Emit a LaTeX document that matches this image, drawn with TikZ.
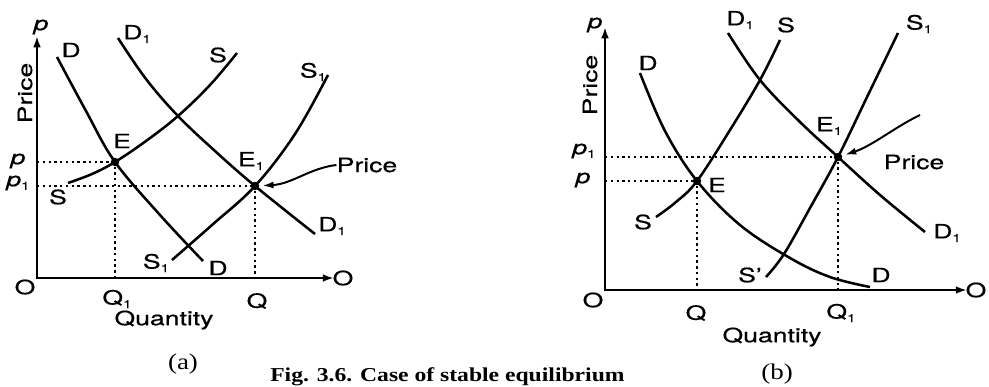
\documentclass[tikz,border=0pt]{standalone}
\usepackage{fontspec}
\setmainfont{TeX Gyre Heros}[FakeStretch=1.35, FakeBold=0.5]
\newfontfamily\capfont{Liberation Serif}[FakeStretch=1.2]
\usepackage{tikz}
\usetikzlibrary{arrows.meta}
\newcommand{\pl}{\textit{p}}
\newcommand{\one}{\raisebox{-0.35ex}{\fontsize{8}{8}\selectfont 1}}

\tikzset{
  curve/.style={line width=1.8pt},
  guide/.style={line width=1.4pt, dash pattern=on 1.7pt off 2.4pt},
  axes/.style={line width=1.7pt, {Latex[length=8pt,width=5.5pt]}-{Latex[length=8pt,width=5.5pt]}},
  pointer/.style={line width=1.4pt, -{Latex[length=8pt,width=5pt]}, shorten >=2pt},
  lbl/.style={font=\fontsize{14}{16}\selectfont, inner sep=0pt},
  eqpt/.style={circle, fill, inner sep=0pt, minimum size=6pt},
  panel/.style={font=\capfont\fontsize{16}{18}\selectfont, inner sep=0pt},
}

\begin{document}
\begin{tikzpicture}[x=0.25mm, y=-0.25mm]
  \useasboundingbox (0,0) rectangle (989,386);
  % ================================================================
  % (a) supply shifts right
  % ================================================================
  \begin{scope}
    \coordinate (aytop) at (37,36);
    \coordinate (aorig) at (37,278);
    \coordinate (axend) at (334,278);
    \draw[axes] (aytop) |- (axend);
    % curves ---------------------------------------------------------
    \draw[curve] plot[smooth, tension=0.6] coordinates {(57,57) (86,111) (115,162) (160,215) (203,261)};
    \draw[curve] plot[smooth, tension=0.6] coordinates {(118,38) (146,79) (178,116) (215,151) (255,186) (315,234)};
    \draw[curve] plot[smooth, tension=0.6] coordinates {(68,183) (92,174) (115,162) (146,141) (178,116) (210,85) (237,53)};
    \draw[curve] plot[smooth, tension=0.6] coordinates {(172,260) (212,225) (255,186) (295,134) (328,75)};
    % equilibria -----------------------------------------------------
    \node[eqpt] (aE) at (115,162) {};
    \node[eqpt] (aEone) at (255,186) {};
    \draw[guide] (aE -| aorig) -- (aE);
    \draw[guide] (aE) -- (aE |- aorig);
    \draw[guide] (aEone -| aorig) -- (aEone);
    \draw[guide] (aEone) -- (aEone |- aorig);
    % labels ---------------------------------------------------------
    \node[lbl] (aptop) at (41,27) {\pl};
    \node[lbl, rotate=90] (aprice) at (25,93) {Price};
    \node[lbl] (ap) at (18,161) {\pl};
    \node[lbl] (apone) at (18,183) {\pl\one};
    \node[lbl] (aDtop) at (71,50) {D};
    \node[lbl] (aDonetop) at (137,34) {D\one};
    \node[lbl] (aStop) at (218,55) {S};
    \node[lbl] (aSonetop) at (313,72) {S\one};
    \node[lbl] (aElab) at (122,141) {E};
    \node[lbl] (aEonelab) at (251,161) {E\one};
    \node[lbl] (aSbot) at (58,197) {S};
    \node[lbl] (aDonebot) at (332,226) {D\one};
    \node[lbl] (aSonebot) at (156,263) {S\one};
    \node[lbl] (aDbot) at (218,268) {D};
    \node[lbl] (aO) at (25,287) {O};
    \node[lbl] (aOx) at (343,278) {O};
    \node[lbl] (aQone) at (117,299) {Q\one};
    \node[lbl] (aQ) at (257,301) {Q};
    \node[lbl] (aqty) at (164,320) {Quantity};
    \node[panel] (acap) at (183,364) {(a)};
    \node[lbl] (apr) at (367,165) {Price};
    \draw[pointer] (apr.west) .. controls (310,168) and (292,184) .. (aEone);
  \end{scope}
  % ================================================================
  % (b) supply shifts left
  % ================================================================
  \begin{scope}
    \coordinate (bytop) at (605,27);
    \coordinate (borig) at (605,290);
    \coordinate (bxend) at (967,290);
    \draw[axes] (bytop) |- (bxend);
    % curves ---------------------------------------------------------
    \draw[curve] plot[smooth, tension=0.6] coordinates {(640,73) (665,131) (697,181) (740,225) (790,258) (830,277) (870,287)};
    \draw[curve] plot[smooth, tension=0.6] coordinates {(656,217) (676,202) (697,181) (730,130) (760,80) (780,40)};
    \draw[curve] plot[smooth, tension=0.6] coordinates {(728,33) (760,80) (800,122) (838,157) (880,195) (925,232)};
    \draw[curve] plot[smooth, tension=0.6] coordinates {(766,277) (784,254) (810,208) (838,157) (868,95) (898,33)};
    % equilibria -----------------------------------------------------
    \node[eqpt] (bE) at (697,181) {};
    \node[eqpt] (bEone) at (838,157) {};
    \draw[guide] (bE -| borig) -- (bE);
    \draw[guide] (bE) -- (bE |- borig);
    \draw[guide] (bEone -| borig) -- (bEone);
    \draw[guide] (bEone) -- (bEone |- borig);
    % labels ---------------------------------------------------------
    \node[lbl] (bptop) at (595,25) {\pl};
    \node[lbl, rotate=90] (bprice) at (590,85) {Price};
    \node[lbl] (bpone) at (584,151) {\pl\one};
    \node[lbl] (bp) at (583,180) {\pl};
    \node[lbl] (bDtop) at (648,63) {D};
    \node[lbl] (bDonetop) at (740,20) {D\one};
    \node[lbl] (bStop) at (786,25) {S};
    \node[lbl] (bSonetop) at (919,24) {S\one};
    \node[lbl] (bElab) at (717,185) {E};
    \node[lbl] (bEonelab) at (829,126) {E\one};
    \node[lbl] (bSbot) at (643,222) {S};
    \node[lbl] (bSprime) at (750,275) {S'};
    \node[lbl] (bDbot) at (881,275) {D};
    \node[lbl] (bDonebot) at (947,233) {D\one};
    \node[lbl] (bO) at (593,300) {O};
    \node[lbl] (bOx) at (976,290) {O};
    \node[lbl] (bQ) at (696,313) {Q};
    \node[lbl] (bQone) at (841,313) {Q\one};
    \node[lbl] (bqty) at (772,337) {Quantity};
    \node[panel] (bcap) at (777,374) {(b)};
    \node[lbl] (bpr) at (914,162) {Price};
    \coordinate (bprstart) at (920,115);
    \draw[pointer] (bprstart) .. controls (895,127) and (872,146) .. (bEone);
  \end{scope}
  % caption, at the page edge
  \node[panel, font=\capfont\bfseries\fontsize{14}{16}\selectfont, anchor=base west] (fig) at (270,381) {Fig. 3.6. Case of stable equilibrium};
\end{tikzpicture}
\end{document}
